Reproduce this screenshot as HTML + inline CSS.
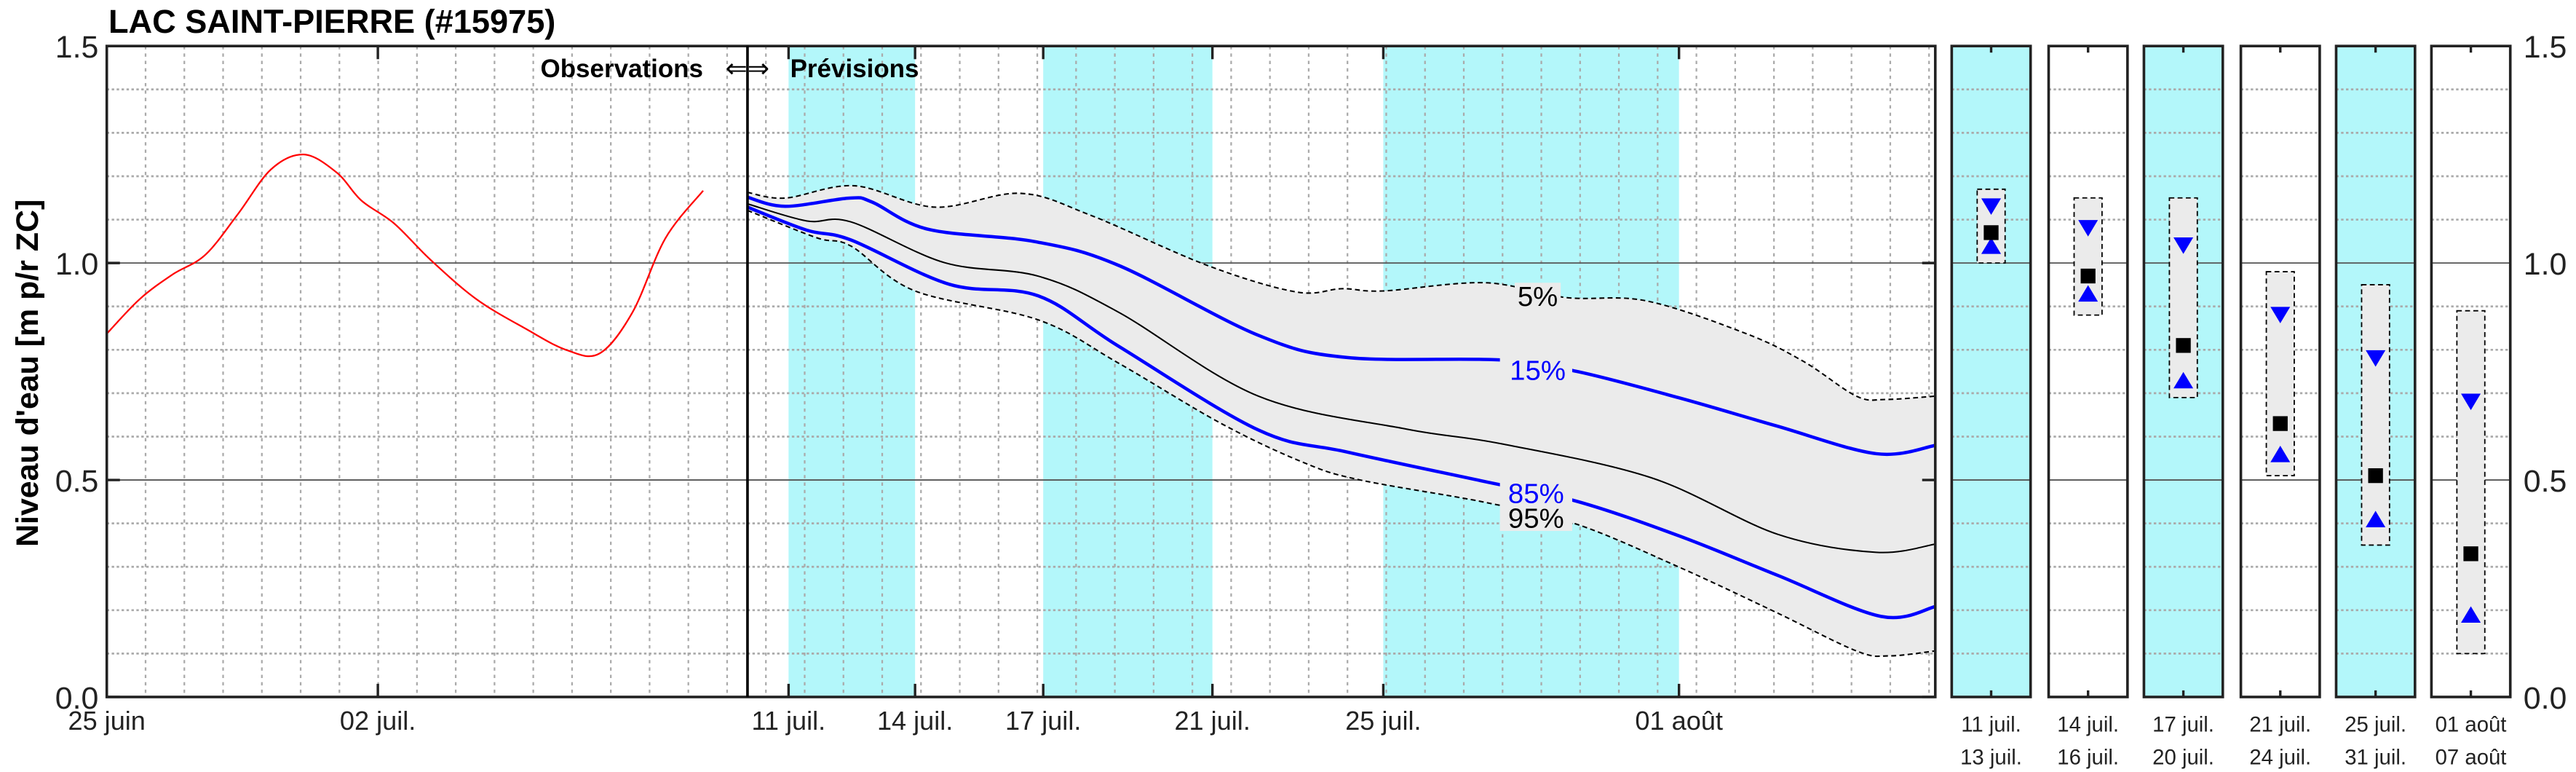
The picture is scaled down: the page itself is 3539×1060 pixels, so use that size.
<!DOCTYPE html>
<html><head><meta charset="utf-8"><style>
html,body{margin:0;padding:0;background:#fff;}
svg{display:block;font-family:"Liberation Sans",Arial,sans-serif;}
</style></head><body>
<svg id="s" width="3539" height="1060" viewBox="0 0 1568 469.64" xmlns="http://www.w3.org/2000/svg">
<g id="bg"></g><g id="grid"></g><g id="data"></g><g id="fr"></g>
<text x="66" y="20" font-size="20" font-weight="bold">LAC SAINT-PIERRE (#15975)</text>
<text x="0" y="0" font-size="19" font-weight="bold" text-anchor="middle" transform="translate(23,227) rotate(-90)">Niveau d'eau [m p/r ZC]</text>
<text x="428" y="47" font-size="15.5" font-weight="bold" text-anchor="end">Observations</text>
<text x="455" y="47" font-size="16" text-anchor="middle">⇐⇒</text>
<text x="481" y="47" font-size="15.5" font-weight="bold">Prévisions</text>
</svg>
<script>
const NS="http://www.w3.org/2000/svg";
function el(p,t,a,txt){const e=document.createElementNS(NS,t);for(const k in a)e.setAttribute(k,a[k]);if(txt!==undefined)e.textContent=txt;document.getElementById(p).appendChild(e);return e;}
const T=28,B=424,Y=v=>B-264*v;
const L=65,R=1178,D=23.6;
[[480,557],[635,738],[842,1022]].forEach(b=>el('bg','rect',{x:b[0],y:T,width:b[1]-b[0],height:B-T,fill:'#b3f7fa'}));
for(let x=L+D;x<R-2;x+=D){el('grid','line',{x1:x,x2:x,y1:T,y2:B,stroke:'#aaa','stroke-width':1,'stroke-dasharray':'2,2.5'});}
for(let i=1;i<15;i++){if(i==5||i==10)continue;el('grid','line',{x1:L,x2:R,y1:Y(i/10),y2:Y(i/10),stroke:'#aaa','stroke-width':1.2,'stroke-dasharray':'1.5,1.5'});}
const P=[[1188,1236,1],[1247,1295,0],[1305,1353,1],[1364,1412,0],[1422,1470,1],[1480,1528,0]];
const PD=[[1.17,1.0,1.13,1.07,1.04],[1.15,0.88,1.08,0.97,0.93],[1.15,0.69,1.04,0.81,0.73],[0.98,0.51,0.88,0.63,0.56],[0.95,0.35,0.78,0.51,0.41],[0.89,0.10,0.68,0.33,0.19]];
const PL=[["11 juil.","13 juil."],["14 juil.","16 juil."],["17 juil.","20 juil."],["21 juil.","24 juil."],["25 juil.","31 juil."],["01 août","07 août"]];
P.forEach((p,i)=>{
 if(p[2])el('bg','rect',{x:p[0],y:T,width:p[1]-p[0],height:B-T,fill:'#b3f7fa'});
 for(let k=1;k<15;k++){if(k==5||k==10)continue;el('grid','line',{x1:p[0],x2:p[1],y1:Y(k/10),y2:Y(k/10),stroke:'#aaa','stroke-width':1.2,'stroke-dasharray':'1.5,1.5'});}
 [0.5,1.0].forEach(v=>el('grid','line',{x1:p[0],x2:p[1],y1:Y(v),y2:Y(v),stroke:'#555','stroke-width':0.8}));
 const c=(p[0]+p[1])/2,d=PD[i];
 el('data','rect',{x:c-8.5,y:Y(d[0]),width:17,height:Y(d[1])-Y(d[0]),fill:'#ebebeb',stroke:'#000','stroke-width':0.8,'stroke-dasharray':'3,2'});
 let y=Y(d[2]);el('data','polygon',{points:`${c-6},${y-5} ${c+6},${y-5} ${c},${y+5}`,fill:'#00f'});
 y=Y(d[4]);el('data','polygon',{points:`${c-6},${y+5} ${c+6},${y+5} ${c},${y-5}`,fill:'#00f'});
 y=Y(d[3]);el('data','rect',{x:c-4.5,y:y-4.5,width:9,height:9,fill:'#000'});
 el('fr','rect',{x:p[0],y:T,width:p[1]-p[0],height:B-T,fill:'none',stroke:'#222','stroke-width':1.6});
 el('fr','line',{x1:c,x2:c,y1:T,y2:T+4,stroke:'#222','stroke-width':1.5});
 el('fr','line',{x1:c,x2:c,y1:B,y2:B-4,stroke:'#222','stroke-width':1.5});
 el('fr','text',{x:c,y:445,'font-size':13,'text-anchor':'middle',fill:'#222'},PL[i][0]);
 el('fr','text',{x:c,y:465,'font-size':13,'text-anchor':'middle',fill:'#222'},PL[i][1]);
});
[0.5,1.0].forEach(v=>el('grid','line',{x1:L,x2:R,y1:Y(v),y2:Y(v),stroke:'#555','stroke-width':0.8}));
function sp(pts){let d=`M${pts[0][0]},${pts[0][1]}`;for(let i=0;i<pts.length-1;i++){const p0=pts[Math.max(i-1,0)],p1=pts[i],p2=pts[i+1],p3=pts[Math.min(i+2,pts.length-1)];d+=` C${p1[0]+(p2[0]-p0[0])/6},${p1[1]+(p2[1]-p0[1])/6} ${p2[0]-(p3[0]-p1[0])/6},${p2[1]-(p3[1]-p1[1])/6} ${p2[0]},${p2[1]}`;}return d;}
const up=[[455,117],[478,120.5],[520,113],[569,126],[621,117.6],[664,131],[735,161.5],[789,177.6],[817,175.6],[842,177],[904,172],[953,181],[1002,183],[1063,203],[1098,220],[1130,241],[1148,243],[1178,241]];
const lo=[[455,128],[497,144.6],[518,149.7],[557,177],[632,194.6],[681,221],[744,258],[794,281.6],[828,292],[904,305.6],[960,319],[1022,345],[1080,372],[1130,396],[1150,399],[1178,396]];
const b15=[[455,120],[478,125.5],[517,120.5],[531,123],[565,139.5],[630,147],[681,161.5],[766,204],[820,217.5],[914,219],[960,226],[1022,242],[1081,259],[1142,276],[1178,271]];
const med=[[455,124],[491,134.4],[518,135],[575,159.8],[632,168],[681,190],[766,241],[856,261],[914,270],[1005,290.6],[1082,325],[1142,336],[1178,331]];
const b85=[[455,126],[491,140],[518,146],[578,173],[632,180],[681,210.7],[766,261.6],[820,275],[904,293],[960,305],[1022,326],[1082,350],[1145,375],[1178,369]];
const band=sp(up)+' L'+sp(lo.slice().reverse()).slice(1)+' Z';
el('data','path',{d:band,fill:'#ebebeb'});
el('data','path',{d:sp(up),fill:'none',stroke:'#000','stroke-width':0.9,'stroke-dasharray':'3,2'});
el('data','path',{d:sp(lo),fill:'none',stroke:'#000','stroke-width':0.9,'stroke-dasharray':'3,2'});
el('data','path',{d:sp(med),fill:'none',stroke:'#000','stroke-width':0.9});
el('data','path',{d:sp(b15),fill:'none',stroke:'#00f','stroke-width':2});
el('data','path',{d:sp(b85),fill:'none',stroke:'#00f','stroke-width':2});
el('data','rect',{x:922,y:172,width:28,height:12,fill:'#ebebeb'});
el('data','rect',{x:913,y:214,width:44,height:18,fill:'#ebebeb'});
el('data','rect',{x:913,y:292,width:44,height:31,fill:'#ebebeb'});
el('data','text',{x:936,y:186,'font-size':17,'text-anchor':'middle'},'5%');
el('data','text',{x:936,y:231,'font-size':17,'text-anchor':'middle',fill:'#00f'},'15%');
el('data','text',{x:935,y:306,'font-size':17,'text-anchor':'middle',fill:'#00f'},'85%');
el('data','text',{x:935,y:321,'font-size':17,'text-anchor':'middle'},'95%');
const red=[[65,203],[85,182],[105,167],[125,155],[145,130],[165,103],[185,94],[205,105],[220,122],[240,136],[262,158],[290,182],[320,200],[345,213],[365,215],[385,190],[405,145],[428,116]];
el('data','path',{d:sp(red),fill:'none',stroke:'#f00','stroke-width':1});
el('fr','rect',{x:L,y:T,width:R-L,height:B-T,fill:'none',stroke:'#222','stroke-width':1.6});
el('fr','line',{x1:455,x2:455,y1:T,y2:B,stroke:'#000','stroke-width':1.6});
[[65,'25 juin'],[230,'02 juil.'],[480,'11 juil.'],[557,'14 juil.'],[635,'17 juil.'],[738,'21 juil.'],[842,'25 juil.'],[1022,'01 août']].forEach(t=>{
 el('fr','line',{x1:t[0],x2:t[0],y1:T,y2:T+8,stroke:'#222','stroke-width':1.5});
 el('fr','line',{x1:t[0],x2:t[0],y1:B,y2:B-8,stroke:'#222','stroke-width':1.5});
 el('fr','text',{x:t[0],y:444,'font-size':16,'text-anchor':'middle',fill:'#222'},t[1]);
});
[0,0.5,1.0,1.5].forEach(v=>{
 el('fr','text',{x:60,y:Y(v)+7,'font-size':19,'text-anchor':'end',fill:'#222'},v.toFixed(1));
 el('fr','text',{x:1536,y:Y(v)+7,'font-size':19,fill:'#222'},v.toFixed(1));
 [L,R-8].forEach(x=>el('fr','line',{x1:x,x2:x+8,y1:Y(v),y2:Y(v),stroke:'#222','stroke-width':1.5}));
});
</script>
</body></html>
